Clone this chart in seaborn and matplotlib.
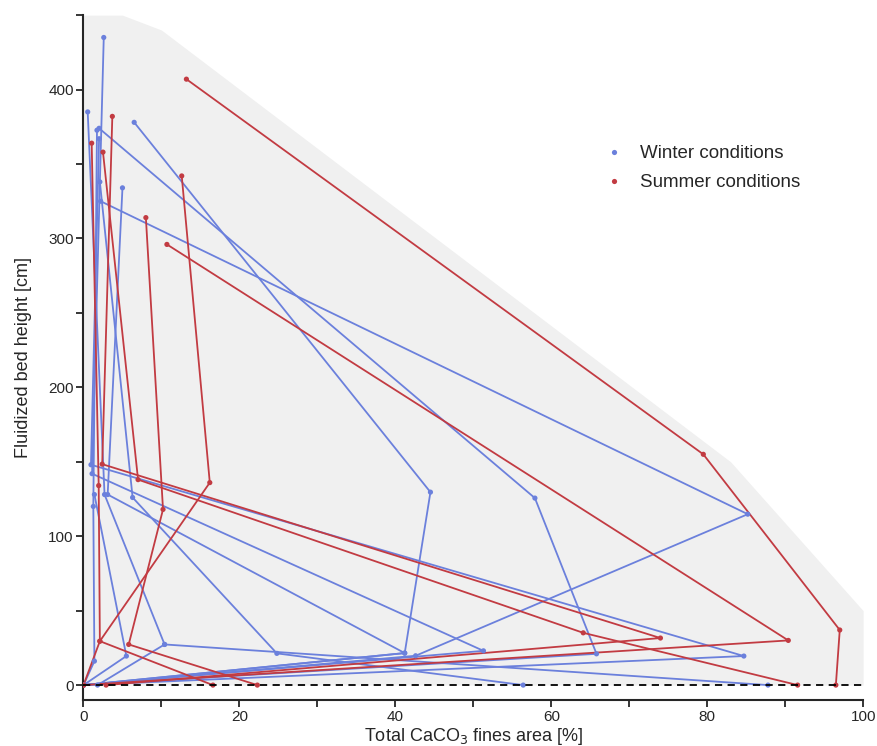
import matplotlib
matplotlib.use("Agg")
import matplotlib.pyplot as plt
import seaborn as sns
import pandas as pd
from matplotlib.ticker import MultipleLocator

# ---------------- data ----------------
winter_x = [
    [2.6, 1.1, 51.3, 0.0],
    [0.54, 2.7, 10.4, 1.8],
    [6.5, 44.5, 41.2, 0.0],
    [2.0, 57.9, 65.8, 0.0],
    [1.73, 1.26, 1.4, 0.0],
    [2.1, 6.3, 24.8, 56.4],
    [5.0, 3.1, 41.2, 0.0],
    [2.2, 85.2, 42.6, 0.0],
    [2.0, 0.96, 84.7, 0.0],
    [1.4, 5.5, 0.0],
    [10.4, 87.8],
]
winter_y = [
    [435, 142, 23, 0],
    [385, 128, 27.3, 0],
    [378, 129.6, 21.5, 0],
    [374, 125.6, 21, 0],
    [372.7, 120, 16.1, 0],
    [338, 126, 21.3, 0],
    [334, 128, 21.5, 0],
    [325, 114.8, 19.7, 0],
    [367, 148, 19.5, 0],
    [128, 19.5, 0],
    [27.3, 0],
]
summer_x = [
    [13.2, 79.5, 97.0, 96.5],
    [10.7, 90.4, 0.0],
    [12.6, 16.2, 2.1, 0.0],
    [8.0, 10.2, 5.8, 22.3],
    [2.5, 7.0, 64.1, 91.6],
    [3.7, 2.4, 74.0, 2.9],
    [1.05, 1.95, 2.1, 16.6],
]
summer_y = [
    [407, 155, 37, 0],
    [296, 30, 0],
    [342, 136, 29.5, 0],
    [314, 118, 27.3, 0],
    [358, 138, 35.1, 0],
    [382, 148.4, 31.6, 0],
    [364, 134, 29.5, 0],
]
env_x = [0, 5, 10, 83, 100]
env_y = [450, 450, 440, 150, 50]

labels = ["Winter conditions", "Summer conditions"]
colors = {"Winter conditions": "#6b80dc", "Summer conditions": "#c23b42"}

rows = []
sid = 0
for lab, xs, ys in [(labels[0], winter_x, winter_y), (labels[1], summer_x, summer_y)]:
    for sx, sy in zip(xs, ys):
        for i, (a, b) in enumerate(zip(sx, sy)):
            rows.append({"series": sid, "season": lab, "x": a, "y": b, "order": i})
        sid += 1
df = pd.DataFrame(rows)

# ---------------- plot ----------------
sns.set_style("ticks")
plt.rcParams['font.family'] = ['Liberation Sans', 'DejaVu Sans']
fig = plt.figure(figsize=(8.77, 7.46), dpi=100)
ax = fig.add_axes([0.0952, 0.0617, 0.889, 0.918])

ax.fill_between(env_x, 0, env_y, color="#f0f0f0", lw=0, zorder=0)

sns.lineplot(data=df, x="x", y="y", hue="season", units="series", estimator=None,
             sort=False, palette=colors, legend=False, lw=1.3, ax=ax, zorder=2)
sns.scatterplot(data=df, x="x", y="y", hue="season", palette=colors, s=14,
                linewidth=0, ax=ax, zorder=3)

ax.axhline(0, color="black", ls=(0, (4, 3)), lw=1.3, zorder=4)

ax.set_xlim(0, 100)
ax.set_ylim(-10, 450)
ax.xaxis.set_major_locator(MultipleLocator(20))
ax.xaxis.set_minor_locator(MultipleLocator(10))
ax.yaxis.set_major_locator(MultipleLocator(100))
ax.yaxis.set_minor_locator(MultipleLocator(50))
ax.tick_params(which="both", direction="out", length=5, width=1.3, labelsize=11, pad=2)
for s in ["left", "bottom"]:
    ax.spines[s].set_linewidth(1.5)
sns.despine(ax=ax)

ax.set_xlabel("Total CaCO$_3$ fines area [%]", fontsize=13, labelpad=2)
ax.set_ylabel("Fluidized bed height [cm]", fontsize=13, labelpad=12)

leg = ax.legend(loc="upper left", bbox_to_anchor=(0.635, 0.835), frameon=False,
                fontsize=13.5, handletextpad=0.4, markerscale=1.0, labelspacing=0.65)

fig.savefig("out.png", dpi=100)
